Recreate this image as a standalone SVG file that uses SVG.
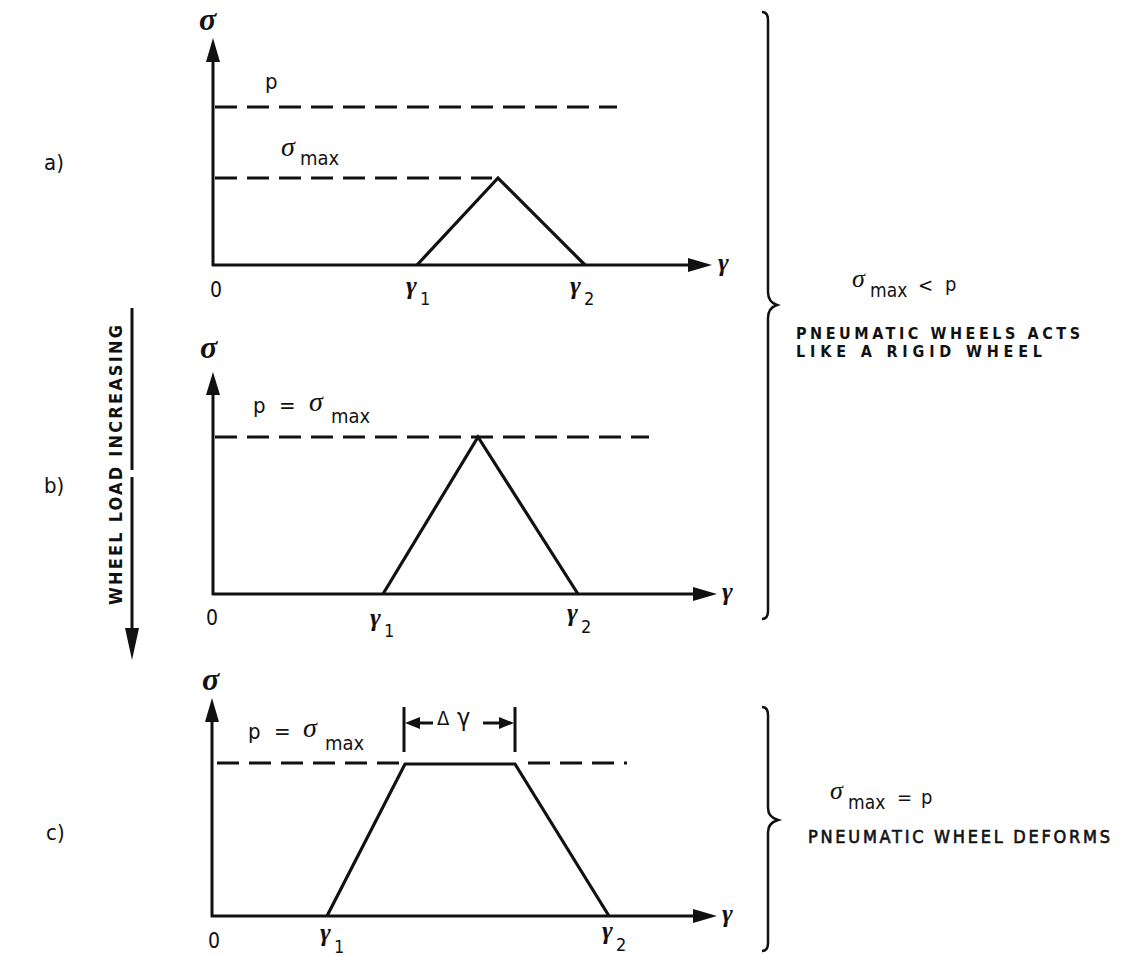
<svg xmlns="http://www.w3.org/2000/svg" width="1124" height="956" viewBox="0 0 1124 956">
<style>
.lt{font-family:"Liberation Sans Narrow","DejaVu Sans Condensed","DejaVu Sans","Liberation Sans",sans-serif;font-stretch:condensed;font-weight:bold;fill:#111}
.lm{font-family:"Liberation Sans Narrow","DejaVu Sans Condensed","DejaVu Sans","Liberation Sans",sans-serif;font-stretch:condensed;fill:#111;stroke:#111;stroke-width:0.6}
.ln{font-family:"Liberation Sans Narrow","DejaVu Sans Condensed","Liberation Sans",sans-serif;font-stretch:condensed;fill:#111}
.gb{font-family:"Liberation Serif","DejaVu Serif",serif;font-style:italic;font-weight:bold;fill:#111}
.gn{font-family:"Liberation Serif","DejaVu Serif",serif;font-style:italic;fill:#111}
.ax{stroke:#111;stroke-width:3;fill:none}
.ds{stroke:#111;stroke-width:3;fill:none;stroke-dasharray:22 10}
.cv{stroke:#111;stroke-width:3.2;fill:none;stroke-linejoin:miter}
.hd{fill:#111}
.br{stroke:#111;stroke-width:2.5;fill:none}
</style>
<rect width="1124" height="956" fill="#fff"/>

<g id="labels-left">
<text class="ln" x="44" y="170" font-size="22">a)</text>
<text class="ln" x="44" y="493" font-size="22">b)</text>
<text class="ln" x="46" y="840" font-size="22">c)</text>
</g>

<g id="load-arrow">
<line class="ax" x1="132" y1="308" x2="132" y2="470"/>
<line class="ax" x1="132" y1="477" x2="132" y2="632"/>
<polygon class="hd" points="132,660 125,628 139,628"/>
<text class="lt" font-size="18" text-anchor="middle" textLength="280" lengthAdjust="spacing" transform="translate(122,465) rotate(-90)">WHEEL LOAD INCREASING</text>
</g>

<g id="graph-a">
<text class="gb" x="199" y="30" font-size="32">σ</text>
<line class="ax" x1="213" y1="266" x2="213" y2="58"/>
<polygon class="hd" points="213,38 206,62 220,62"/>
<line class="ax" x1="212" y1="265" x2="692" y2="265"/>
<polygon class="hd" points="712,265 688,258 688,272"/>
<text class="gb" x="718" y="271" font-size="26">γ</text>
<line class="ds" x1="215" y1="107" x2="617" y2="107"/>
<text class="ln" x="265" y="89" font-size="22">p</text>
<line class="ds" x1="215" y1="178" x2="492" y2="178"/>
<text class="gn" x="281" y="156" font-size="28">σ</text>
<text class="ln" x="300" y="165" font-size="20">max</text>
<polyline class="cv" points="417,265 498,178 585,265"/>
<text class="ln" x="216" y="297" font-size="21" text-anchor="middle">0</text>
<text class="gb" x="406" y="294" font-size="26">γ</text>
<text class="ln" x="420" y="305" font-size="18">1</text>
<text class="gb" x="570" y="294" font-size="26">γ</text>
<text class="ln" x="584" y="305" font-size="18">2</text>
</g>

<g id="graph-b">
<text class="gb" x="200" y="358" font-size="32">σ</text>
<line class="ax" x1="213" y1="595" x2="213" y2="392"/>
<polygon class="hd" points="213,372 206,395 220,395"/>
<line class="ax" x1="212" y1="594" x2="697" y2="594"/>
<polygon class="hd" points="717,594 693,587 693,601"/>
<text class="gb" x="722" y="600" font-size="26">γ</text>
<line class="ds" x1="215" y1="437" x2="649" y2="437"/>
<text class="ln" x="253" y="413" font-size="22">p</text>
<text class="ln" x="279" y="413" font-size="22">=</text>
<text class="gn" x="309" y="411" font-size="28">σ</text>
<text class="ln" x="331" y="423" font-size="20">max</text>
<polyline class="cv" points="383,594 478,437 578,594"/>
<text class="ln" x="212" y="625" font-size="21" text-anchor="middle">0</text>
<text class="gb" x="370" y="626" font-size="26">γ</text>
<text class="ln" x="384" y="637" font-size="18">1</text>
<text class="gb" x="567" y="621" font-size="26">γ</text>
<text class="ln" x="581" y="633" font-size="18">2</text>
</g>

<g id="graph-c">
<text class="gb" x="202" y="690" font-size="32">σ</text>
<line class="ax" x1="212" y1="917" x2="212" y2="718"/>
<polygon class="hd" points="212,698 205,722 219,722"/>
<line class="ax" x1="211" y1="916" x2="697" y2="916"/>
<polygon class="hd" points="717,916 693,909 693,923"/>
<text class="gb" x="722" y="922" font-size="26">γ</text>
<line class="ds" x1="217" y1="763" x2="400" y2="763"/>
<line class="ds" x1="528" y1="763" x2="627" y2="763"/>
<text class="ln" x="248" y="739" font-size="22">p</text>
<text class="ln" x="274" y="739" font-size="22">=</text>
<text class="gn" x="303" y="737" font-size="28">σ</text>
<text class="ln" x="325" y="750" font-size="20">max</text>
<polyline class="cv" stroke-width="4" points="327,916 405,764 515,764 609,916"/>
<line class="ax" x1="404" y1="707" x2="404" y2="752"/>
<line class="ax" x1="515" y1="707" x2="515" y2="752"/>
<line class="ax" x1="416" y1="723" x2="433" y2="723"/>
<polygon class="hd" points="405,723 420,717 420,729"/>
<line class="ax" x1="483" y1="723" x2="502" y2="723"/>
<polygon class="hd" points="514,723 499,717 499,729"/>
<text class="ln" x="437" y="725" font-size="20">Δ</text>
<text class="ln" x="457" y="726" font-size="25">γ</text>
<text class="ln" x="214" y="948" font-size="21" text-anchor="middle">0</text>
<text class="gb" x="320" y="941" font-size="26">γ</text>
<text class="ln" x="334" y="953" font-size="18">1</text>
<text class="gb" x="602" y="939" font-size="26">γ</text>
<text class="ln" x="616" y="951" font-size="18">2</text>
</g>

<g id="bracket-ab">
<path class="br" d="M762,12 Q768,12 768,20 L768,292 Q768,302 777,305 Q768,308 768,318 L768,611 Q768,619 762,619"/>
<text class="gn" x="852" y="287" font-size="26">σ</text>
<text class="ln" x="870" y="297" font-size="19">max</text>
<text class="ln" x="918" y="292" font-size="20">&lt;</text>
<text class="ln" x="945" y="291" font-size="20">p</text>
<text class="lt" x="796" y="339" font-size="16" textLength="284" lengthAdjust="spacing">PNEUMATIC WHEELS ACTS</text>
<text class="lt" x="796" y="357" font-size="16" textLength="246" lengthAdjust="spacing">LIKE A RIGID WHEEL</text>
</g>

<g id="bracket-c">
<path class="br" d="M762,707 Q768,707 768,715 L768,808 Q768,817 778,820 Q768,823 768,832 L768,943 Q768,951 762,951"/>
<text class="gn" x="830" y="799" font-size="26">σ</text>
<text class="ln" x="848" y="809" font-size="19">max</text>
<text class="ln" x="897" y="804" font-size="20">=</text>
<text class="ln" x="921" y="804" font-size="20">p</text>
<text class="lm" x="808" y="843" font-size="18" textLength="302" lengthAdjust="spacing">PNEUMATIC WHEEL DEFORMS</text>
</g>
</svg>
